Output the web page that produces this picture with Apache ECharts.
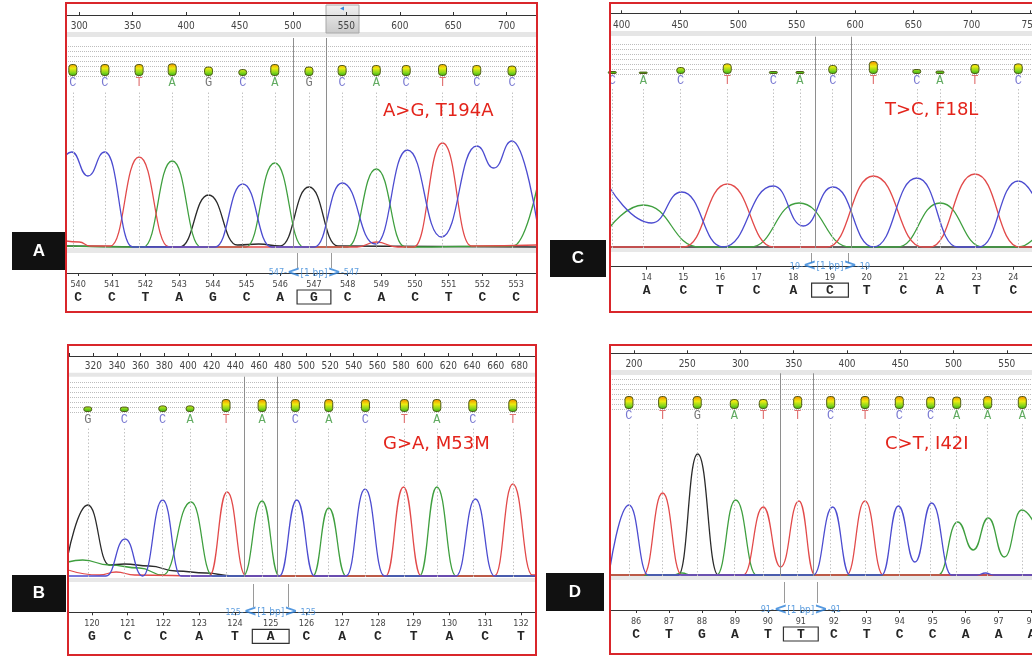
<!DOCTYPE html>
<html><head><meta charset="utf-8">
<script src="https://cdn.jsdelivr.net/npm/echarts@6/dist/echarts.min.js"></script>
<style>html,body{margin:0;padding:0;background:#fff}#c{width:1032px;height:658px}</style>
</head><body><div id="c"></div>
<script>
// ================= DATA =================
// ---- Panel A ----
const A_scanTicks = [300,350,400,450,500,550,600,650,700];
const A_scanLabels = [300,350,400,450,500,550,600,650,700];
const A_callPos  = [294,324,356,387,421,453,483,515,546,578,606,640,672,705];
const A_callBase = ['C','C','T','A','G','C','A','G','C','A','C','T','C','C'];
const A_callQual = [60,60,60,63,47,35,60,47,55,55,55,60,55,52];
const A_seqNum  = [540,541,542,543,544,545,546,547,548,549,550,551,552,553];
const A_seqBase = ['C','C','T','A','G','C','A','G','C','A','C','T','C','C'];
const A_selScan = [500,531];
const A_selNum = 547;
const A_mutation = 'A>G, T194A';
const A_traceA = [[287.6,2],[360,1],[387,87],[414,1],[456,1],[483,85],[510,1],[551,1],[578,79],[605,1],[706,2],[728.4,60]];
const A_traceC = [[287.6,93],[293,96],[308,72],[324,96],[350,1],[427,1],[453,64],[480,1],[520,1],[546,65],[577,4],[607,98],[639,11],[672,102],[688,80],[705,107],[728.4,26]];
const A_traceG = [[287.6,2],[394,1],[421,53],[448,3],[468,4],[488,2],[515,61],[542,2],[728.4,1]];
const A_traceT = [[287.6,7],[300,6],[310,2],[329,2],[356,91],[384,1],[560,1],[578,6],[598,1],[613,1],[640,105],[667,2],[728.4,3]];

// ---- Panel B ----
const B_scanTicks = [300,320,340,360,380,400,420,440,460,480,500,520,540,560,580,600,620,640,660,680];
const B_scanLabels = [320,340,360,380,400,420,440,460,480,500,520,540,560,580,600,620,640,660,680];
const B_callPos  = [315.3,346.2,378.6,401.7,432.1,462.6,490.7,518.9,549.9,582.8,610.2,640.6,674.4];
const B_callBase = ['G','C','C','A','T','A','C','A','C','T','A','C','T'];
const B_callQual = [28,27,33,33,65,65,65,65,65,65,65,65,65];
const B_seqNum  = [120,121,122,123,124,125,126,127,128,129,130,131,132];
const B_seqBase = ['G','C','C','A','T','A','C','A','C','T','A','C','T'];
const B_selScan = [447.6,475.8];
const B_selNum = 125;
const B_mutation = 'G>A, M53M';
const B_traceA = [[298.6,15],[311,17],[333.5,12],[358.9,9],[378.6,2],[402.6,75],[420.9,1],[446.3,1],[462.6,76],[477.2,1],[505.4,1],[518.9,69],[533.6,1],[595.5,1],[610.2,90],[626.5,1],[694,1]];
const B_traceC = [[298.6,1],[330.7,1],[346.8,38],[361.7,1],[378.6,77],[394.1,1],[477.2,1],[491.9,77],[506.8,1],[533.6,1],[549.6,88],[565.9,1],[626.5,1],[642.8,78],[658.9,1],[694,1]];
const B_traceG = [[298.6,22],[315.3,72],[333.5,12],[346.2,13],[367.3,11],[389.9,6],[415.2,4],[437.8,1],[694,1]];
const B_traceT = [[298.6,7],[325.1,2],[339.2,5],[355,2],[418,1],[433,85],[449,1],[567,1],[582,90],[597,1],[659,1],[674.4,93],[691,2],[694,2]];

// ---- Panel C ----
const C_scanTicks = [400,450,500,550,600,650,700,750];
const C_scanLabels = [400,450,500,550,600,650,700,750];
const C_callPos  = [392,418.5,450.6,490.5,530,552.8,580.9,615.7,652.9,672.8,702.8,739.9];
const C_callBase = ['C','A','C','T','C','A','C','T','C','A','T','C'];
const C_callQual = [15,12,35,53,15,15,45,65,25,17,50,53];
const C_seqNum  = [14,15,16,17,18,19,20,21,22,23,24];
const C_seqBase = ['A','C','T','C','A','C','T','C','A','T','C'];
const C_selScan = [566.3,597.1];
const C_selNum = 19;
const C_mutation = 'T>C, F18L';
const C_traceA = [[390,21],[418.5,43],[467,1],[510,1],[552,45],[596,1],[636,1],[673,45],[710,1],[740,1],[767,32]];
const C_traceC = [[390,60],[425.7,25],[451.4,56],[487,1],[530,62],[555.7,22],[581,61],[615.7,1],[653,70],[688,1],[706,1],[740,67],[767,10]];
const C_traceG = [[390,1],[767,1]];
const C_traceT = [[390,1],[453,1],[490.5,64],[530,1],[576,1],[615.7,72],[658,1],[664,1],[702.8,74],[741,1],[767,1]];

// ---- Panel D ----
const D_scanTicks = [200,250,300,350,400,450,500,550];
const D_scanLabels = [200,250,300,350,400,450,500,550];
const D_callPos  = [195.3,226.9,259.4,294.2,321.4,353.7,384.7,416.9,449.1,478.6,503,532.1,564.6];
const D_callBase = ['C','T','G','A','T','T','C','T','C','C','A','A','A'];
const D_callQual = [65,65,65,50,50,65,65,65,65,62,62,65,65];
const D_seqNum  = [86,87,88,89,90,91,92,93,94,95,96,97,98];
const D_seqBase = ['C','T','G','A','T','T','C','T','C','C','A','A','A'];
const D_selScan = [337.1,368.4];
const D_selNum = 91;
const D_mutation = 'C>T, I42I';
const D_traceA = [[177.5,1],[236,1],[245,3],[254,1],[277.6,1],[295.5,76],[315.2,1],[485.7,1],[503.9,54],[518.6,26],[532.7,58],[547.7,19],[564,66],[590.6,5]];
const D_traceC = [[177.5,8],[195.3,71],[213.4,1],[368.4,1],[386.6,69],[402.8,1],[432.6,1],[448.2,70],[463.8,14],[479.5,73],[498.3,1],[522,1],[530,3],[538,1],[590.6,1]];
const D_traceG = [[177.5,1],[241.6,1],[259.8,122],[279.2,1],[590.6,1]];
const D_traceT = [[177.5,1],[208.8,1],[226.9,83],[244.8,1],[302.6,1],[321.4,69],[337.7,9],[354.9,75],[369.9,1],[399.7,1],[416.9,75],[434.1,1],[590.6,1]];

// ================= LAYOUT & STYLE =================
const PANELS = [
  {name:'A', d:{scanTicks:A_scanTicks,scanLabels:A_scanLabels,callPos:A_callPos,callBase:A_callBase,callQual:A_callQual,seqNum:A_seqNum,seqBase:A_seqBase,selScan:A_selScan,selNum:A_selNum,mutation:A_mutation,tr:{A:A_traceA,C:A_traceC,G:A_traceG,T:A_traceT}},
   L:{left:66,width:471,frame:[66,3,471,309],smin:287.6,smax:728.4,nmin:539.64,nmax:553.62,axisY:15,labMargin:6,band1:[32,37],mainTop:38,qTop:46,qBottom:76,letterDist:0.5,tTop:92,tBottom:248,band2:[248,253],bTop:253,bBottom:268,bAxisY:273,numMargin:6,boxPad:13,mut:[383,111],box:[12,232,54,38]}},
  {name:'C', d:{scanTicks:C_scanTicks,scanLabels:C_scanLabels,callPos:C_callPos,callBase:C_callBase,callQual:C_callQual,seqNum:C_seqNum,seqBase:C_seqBase,selScan:C_selScan,selNum:C_selNum,mutation:C_mutation,tr:{A:C_traceA,C:C_traceC,G:C_traceG,T:C_traceT}},
   L:{left:610,width:440,frame:[610,3,440,309],smin:390,smax:767.1,nmin:13.0,nmax:25.0,axisY:13.3,labMargin:7,band1:[31,36],mainTop:36.7,qTop:44,qBottom:74,letterDist:0,tTop:88,tBottom:248,band2:[248,252],bTop:253,bBottom:263,bAxisY:266.7,numMargin:5.5,boxPad:14.5,mut:[885,110.5],box:[550,240,56,37]}},
  {name:'B', d:{scanTicks:B_scanTicks,scanLabels:B_scanLabels,callPos:B_callPos,callBase:B_callBase,callQual:B_callQual,seqNum:B_seqNum,seqBase:B_seqBase,selScan:B_selScan,selNum:B_selNum,mutation:B_mutation,tr:{A:B_traceA,C:B_traceC,G:B_traceG,T:B_traceT}},
   L:{left:68,width:468,frame:[68,345,468,310],smin:298.6,smax:694.0,nmin:119.33,nmax:132.42,axisY:356,labMargin:5,band1:[372.7,376.7],mainTop:376.7,qTop:382,qBottom:412,letterDist:1,tTop:428,tBottom:577,band2:[578,582],bTop:584,bBottom:607,bAxisY:612.3,numMargin:6,boxPad:14.5,mut:[383,444],box:[12,575,54,37]}},
  {name:'D', d:{scanTicks:D_scanTicks,scanLabels:D_scanLabels,callPos:D_callPos,callBase:D_callBase,callQual:D_callQual,seqNum:D_seqNum,seqBase:D_seqBase,selScan:D_selScan,selNum:D_selNum,mutation:D_mutation,tr:{A:D_traceA,C:D_traceC,G:D_traceG,T:D_traceT}},
   L:{left:610,width:440,frame:[610,345,440,309],smin:177.5,smax:590.6,nmin:85.21,nmax:98.56,axisY:353.3,labMargin:6,band1:[370,375],mainTop:373.3,qTop:379,qBottom:409,letterDist:0,tTop:424,tBottom:576,band2:[576,580],bTop:582,bBottom:603,bAxisY:610,numMargin:6,boxPad:13.5,mut:[885,444],box:[546,573,58,38]}}
];

const TRACE_COL = {A:'#3f9f3f', C:'#4c4cd0', G:'#2b2b2b', T:'#e24a4a'};
const LETTER_COL = {A:'#3a963a', C:'#5656c6', G:'#555555', T:'#d84e4e'};
const NARROW = "'Liberation Sans Narrow','DejaVu Sans Condensed','Liberation Sans',sans-serif";
const MONO = "'Liberation Mono','DejaVu Sans Mono',monospace";
const BLUE = '#3a88d8';

const grid=[], xAxis=[], yAxis=[], series=[], graphic=[];
function addGrid(L, top, bottom){
  grid.push({left:L.left, top:top, width:L.width, height:bottom-top, containLabel:false, outerBoundsMode:'none'});
  return grid.length-1;
}
function hiddenX(g,L){ xAxis.push({gridIndex:g,type:'value',min:L.smin,max:L.smax,show:false}); }

PANELS.forEach(P=>{
  const d=P.d, L=P.L;
  // ---- main grid (top scan axis + selection lines)
  let g = addGrid(L, L.mainTop, L.tBottom);
  xAxis.push({gridIndex:g,type:'value',position:'top',min:L.smin,max:L.smax,offset:L.mainTop-L.axisY,
    axisLine:{show:true,onZero:false,lineStyle:{color:'#333',width:1}},
    axisTick:{show:true,customValues:d.scanTicks,length:3,lineStyle:{color:'#333'}},
    axisLabel:{show:true,inside:true,customValues:d.scanLabels,margin:L.labMargin,fontSize:10,color:'#444',fontFamily:NARROW},
    splitLine:{show:false}});
  yAxis.push({gridIndex:g,type:'value',min:0,max:1,show:false});
  series.push({type:'line',xAxisIndex:g,yAxisIndex:g,data:[],silent:true,z:2,
    markLine:{silent:true,symbol:'none',label:{show:false},animation:false,
      lineStyle:{color:'#8e8e8e',type:'solid',width:1},
      data:d.selScan.map(v=>({xAxis:v}))}});

  // ---- quality grid
  g = addGrid(L, L.qTop, L.qBottom);
  hiddenX(g,L);
  yAxis.push({gridIndex:g,type:'value',min:0,max:150,interval:25,
    axisLine:{show:false},axisTick:{show:false},axisLabel:{show:false},
    splitLine:{show:true,lineStyle:{color:'#bdbdbd',type:[1,1],width:1}}});
  const grad = new echarts.graphic.LinearGradient(0, L.qBottom-14, 0, L.qBottom, [
    {offset:0,color:'#f06400'},{offset:0.2,color:'#f3a800'},{offset:0.45,color:'#ecec10'},
    {offset:0.75,color:'#8ad61c'},{offset:1,color:'#2fb012'}], true);
  series.push({type:'bar',xAxisIndex:g,yAxisIndex:g,barWidth:9,z:3,silent:true,
    data:d.callPos.map((x,i)=>[x,d.callQual[i]]),
    itemStyle:{color:grad,borderColor:'#4e5a18',borderWidth:1,borderRadius:3}});
  const richL={};
  Object.keys(LETTER_COL).forEach(k=>{richL[k]={color:LETTER_COL[k],fontFamily:MONO,fontSize:12}});
  series.push({type:'scatter',xAxisIndex:g,yAxisIndex:g,symbolSize:1,clip:false,silent:true,
    itemStyle:{color:'rgba(0,0,0,0)'},
    data:d.callPos.map((x,i)=>[x,0]),
    label:{show:true,position:'bottom',distance:L.letterDist,
      formatter:p=>'{'+d.callBase[p.dataIndex]+'|'+d.callBase[p.dataIndex]+'}',rich:richL}});

  // ---- trace grid
  g = addGrid(L, L.tTop, L.tBottom);
  hiddenX(g,L);
  yAxis.push({gridIndex:g,type:'value',min:0,max:L.tBottom-L.tTop,show:false});
  series.push({type:'line',xAxisIndex:g,yAxisIndex:g,data:[],silent:true,z:1,
    markLine:{silent:true,symbol:'none',label:{show:false},animation:false,
      lineStyle:{color:'#c2c2c2',type:[1.5,2],width:1},
      data:d.callPos.map(v=>({xAxis:v}))}});
  ['G','A','T','C'].forEach(k=>{
    series.push({type:'line',xAxisIndex:g,yAxisIndex:g,data:d.tr[k],showSymbol:false,symbol:'none',
      smooth:0.5,smoothMonotone:'x',silent:true,z:3,
      lineStyle:{color:TRACE_COL[k],width:1.3}});
  });

  // ---- bottom grid (sequence axis)
  g = addGrid(L, L.bTop, L.bBottom);
  xAxis.push({gridIndex:g,type:'value',position:'bottom',min:L.nmin,max:L.nmax,offset:L.bAxisY-L.bBottom,
    axisLine:{show:true,onZero:false,lineStyle:{color:'#333',width:1}},
    axisTick:{show:true,customValues:d.seqNum,length:3,lineStyle:{color:'#333'}},
    axisLabel:{show:true,customValues:d.seqNum,margin:L.numMargin,
      formatter:v=>{const i=d.seqNum.indexOf(v);const b=d.seqBase[i];
        return '{n|'+v+'}\n'+(v===d.selNum?'{s|'+b+'}':'{l|'+b+'}');},
      rich:{
        n:{fontSize:9,fontFamily:NARROW,color:'#444',lineHeight:11,align:'center'},
        l:{fontSize:13,fontWeight:'bold',fontFamily:MONO,color:'#262626',lineHeight:15,align:'center'},
        s:{fontSize:13,fontWeight:'bold',fontFamily:MONO,color:'#262626',lineHeight:14,align:'center',
           borderColor:'#333',borderWidth:1.2,padding:[1,L.boxPad,0,L.boxPad]}
      }},
    splitLine:{show:false}});
  yAxis.push({gridIndex:g,type:'value',min:0,max:1,show:false});
  series.push({type:'scatter',xAxisIndex:g,yAxisIndex:g,symbolSize:1,clip:false,silent:true,z:5,
    itemStyle:{color:'rgba(0,0,0,0)'},
    data:[[d.selNum,0]],
    label:{show:true,position:'inside',offset:[0,L.bAxisY-L.bBottom],
      formatter:()=>'{n|'+d.selNum+'-}{a|<}{t|[1 bp]}{a|>}{n|-'+d.selNum+'}',
      rich:{n:{fontSize:9,color:BLUE,fontFamily:NARROW},
            a:{fontSize:16,fontWeight:'bold',color:'#2b7fd8',fontFamily:"'DejaVu Sans',sans-serif",padding:[0,0,1,0]},
            t:{fontSize:10,color:BLUE,fontFamily:NARROW}}},
    markLine:{silent:true,symbol:'none',label:{show:false},animation:false,
      lineStyle:{color:'#9a9a9a',type:'solid',width:1},
      data:[{xAxis:d.selNum-0.5},{xAxis:d.selNum+0.5}]}});

  // ---- decorations
  graphic.push({type:'rect',shape:{x:L.frame[0],y:L.band1[0],width:L.frame[2],height:L.band1[1]-L.band1[0]},style:{fill:'#e6e6e6'},z:-2});
  graphic.push({type:'rect',shape:{x:L.frame[0],y:L.band2[0],width:L.frame[2],height:L.band2[1]-L.band2[0]},style:{fill:'#e8e8e8'},z:-2});
  graphic.push({type:'rect',shape:{x:L.frame[0],y:L.frame[1],width:L.frame[2],height:L.frame[3]},style:{fill:'none',stroke:'#d9262b',lineWidth:2},z:100});
  graphic.push({type:'text',x:L.mut[0],y:L.mut[1],style:{text:d.mutation,fill:'#e3241b',font:"18px 'DejaVu Sans',sans-serif",verticalAlign:'middle'},z:50});
  graphic.push({type:'rect',shape:{x:L.box[0],y:L.box[1],width:L.box[2],height:L.box[3]},style:{fill:'#111'},z:60});
  graphic.push({type:'text',x:L.box[0]+L.box[2]/2,y:L.box[1]+L.box[3]/2,style:{text:P.name,fill:'#fff',font:"bold 17px 'Liberation Sans',Arial,sans-serif",align:'center',verticalAlign:'middle'},z:61});
});

// scroll thumb in panel A header
graphic.push({type:'rect',shape:{x:326,y:5,width:33,height:28},
  style:{fill:new echarts.graphic.LinearGradient(0,0,0,1,[{offset:0,color:'#f2f2f2'},{offset:1,color:'#c9c9c9'}]),stroke:'#a8a8a8',lineWidth:1},z:-1});
graphic.push({type:'polygon',shape:{points:[[340,8.5],[344,6.5],[344,10.5]]},style:{fill:'#3a88d8'},z:-1});

const chart = echarts.init(document.getElementById('c'), null, {renderer:'canvas',width:1032,height:658});
chart.setOption({animation:false,backgroundColor:'#fff',grid,xAxis,yAxis,series,graphic});
</script></body></html>
